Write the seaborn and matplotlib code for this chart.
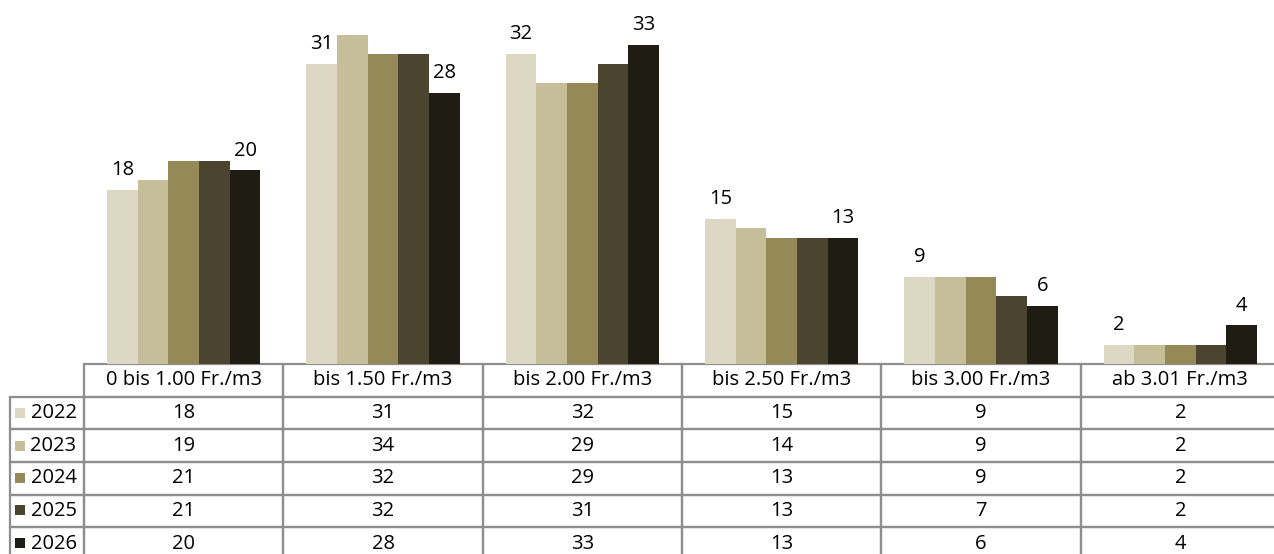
import numpy as np
import pandas as pd
import matplotlib.pyplot as plt
import seaborn as sns
from matplotlib.patches import Rectangle

categories = ['0 bis 1.00 Fr./m3', 'bis 1.50 Fr./m3', 'bis 2.00 Fr./m3',
              'bis 2.50 Fr./m3', 'bis 3.00 Fr./m3', 'ab 3.01 Fr./m3']
years = ['2022', '2023', '2024', '2025', '2026']
values_2022 = [18, 31, 32, 15, 9, 2]
values_2023 = [19, 34, 29, 14, 9, 2]
values_2024 = [21, 32, 29, 13, 9, 2]
values_2025 = [21, 32, 31, 13, 7, 2]
values_2026 = [20, 28, 33, 13, 6, 4]
colors = ['#ddd8c3', '#c6bd99', '#958a57', '#4b4530', '#1f1d13']

series = [values_2022, values_2023, values_2024, values_2025, values_2026]
df = pd.DataFrame([
    {'Kategorie': cat, 'Jahr': yr, 'Wert': v}
    for yr, vals in zip(years, series)
    for cat, v in zip(categories, vals)
])

sns.set_theme(style='white')
plt.rcParams['font.family'] = ['Open Sans', 'DejaVu Sans']
plt.rcParams['text.color'] = 'black'

W, H = 1274, 554
fig = plt.figure(figsize=(W / 100, H / 100), dpi=100)
# plot area: x 84..1280 px, y 0..364 px (from top)
ax_w = 1280 - 84
ax = fig.add_axes([84 / W, (H - 364) / H, ax_w / W, 364 / H])

sns.barplot(data=df, x='Kategorie', y='Wert', hue='Jahr', order=categories,
            hue_order=years, palette=colors, saturation=1, width=0.77,
            gap=0, linewidth=0, legend=False, ax=ax)

# value labels only on first and last year
ax.bar_label(ax.containers[0], fontsize=14.5, padding=7, color='black')
ax.bar_label(ax.containers[-1], fontsize=14.5, padding=7, color='black')

ax.set_xlim(-0.5, 5.5)
ax.set_ylim(0, 37.6)
ax.set_xlabel('')
ax.set_ylabel('')
ax.set_xticks([])
ax.set_yticks([])
for s in ax.spines.values():
    s.set_visible(False)

# data table below the bars (first column holds the year labels)
tbl_h = 196
label_w = 74
cell_text = [[yr] + [str(v) for v in vals] for yr, vals in zip(years, series)]
col_w = [label_w / ax_w] + [1 / 6] * 6
tbl = ax.table(cellText=cell_text, colLabels=[''] + categories,
               cellLoc='center', colLoc='center', colWidths=col_w,
               bbox=[-label_w / ax_w, -tbl_h / 364,
                     (ax_w + label_w) / ax_w, tbl_h / 364])
tbl.auto_set_font_size(False)
tbl.set_fontsize(14.5)
for (r, c), cell in tbl.get_celld().items():
    cell.set_edgecolor('#8e8e8e')
    cell.set_linewidth(1.6)
    cell.set_facecolor('none')
    cell.get_text().set_color('black')
    if c == 0:
        cell.get_text().set_horizontalalignment('right')
tbl[(0, 0)].visible_edges = ''

# colored keys in the year label cells
row_h = (tbl_h - 34) / 5
for i, c in enumerate(colors):
    y_px = 364 + 34 + row_h * (i + 0.5) - 1
    fig.patches.append(Rectangle((15 / W, (H - y_px - 5) / H), 10 / W, 10 / H,
                                 transform=fig.transFigure, color=c, lw=0))

plt.savefig('out.png', dpi=100)
